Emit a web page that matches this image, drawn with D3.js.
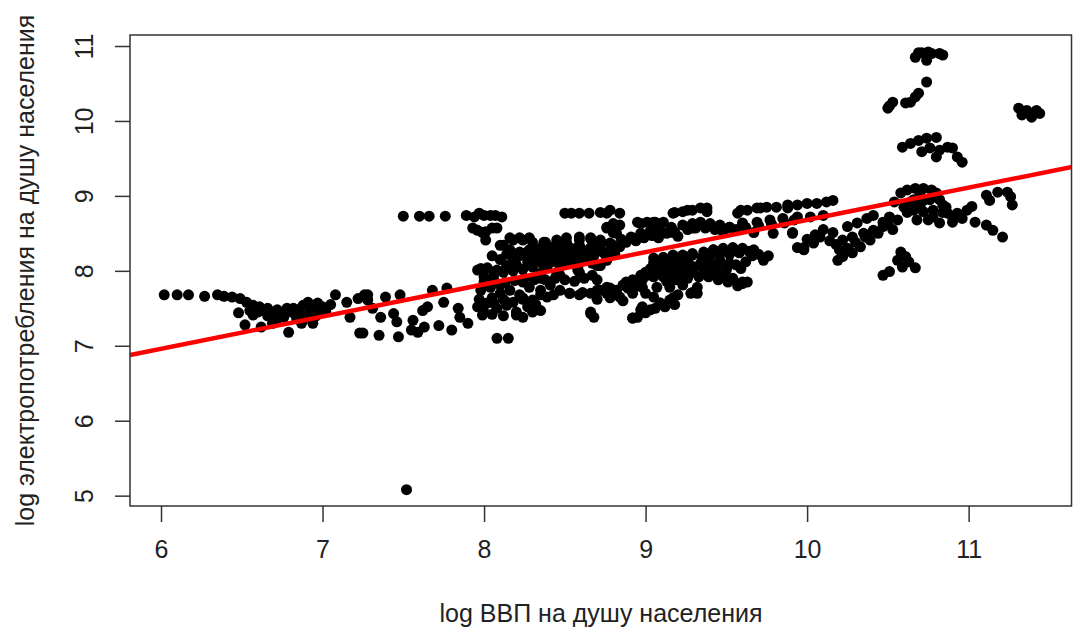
<!DOCTYPE html>
<html>
<head>
<meta charset="utf-8">
<script src="https://cdn.jsdelivr.net/npm/d3@7"></script>
<style>
  body { margin: 0; background: #fff; }
  svg { display: block; }
  text { font-family: "Liberation Sans", Arial, sans-serif; fill: #222; }
</style>
</head>
<body>
<div id="chart"></div>
<script>
// log GDP per capita (x) vs log electricity use per capita (y)
const lowIncome = [
  [6.02,7.68],[6.10,7.68],[6.17,7.68],[6.27,7.66],[6.35,7.68],[6.39,7.66],[6.44,7.65],[6.49,7.63],
  [6.53,7.58],[6.57,7.54],[6.61,7.52],[6.66,7.50],[6.72,7.48],[6.78,7.50],[6.82,7.50],[6.88,7.54],
  [6.91,7.58],[6.97,7.57],[7.00,7.52],[7.08,7.68],[7.15,7.58],[7.22,7.63],[7.28,7.68],
  [6.48,7.44],[6.57,7.41],[6.52,7.28],[6.62,7.25],[6.69,7.30],[6.79,7.18],[6.87,7.30],[6.94,7.30],
  [7.17,7.38],[7.23,7.17],[6.76,7.38],[6.82,7.44],[6.90,7.38],[6.98,7.44],
  [6.70,7.45],[6.74,7.42],[6.80,7.46],[6.85,7.48],[6.92,7.46],[6.95,7.50],[6.86,7.42],[6.64,7.47],[6.60,7.45],
  [6.66,7.40],[6.72,7.36],[6.84,7.36],[6.96,7.40],[7.02,7.46],[7.05,7.55],[6.55,7.47],
  [7.26,7.68],[7.28,7.61],[7.31,7.50],[7.39,7.65],[7.48,7.68],[7.36,7.38],[7.44,7.43],[7.46,7.32],
  [7.25,7.17],[7.35,7.14],[7.47,7.12],[7.56,7.34],[7.59,7.18],[7.65,7.52],[7.63,7.25],[7.68,7.74],
  [7.72,7.27],[7.75,7.58],[7.77,7.77],[7.80,7.21],[7.84,7.50],[7.85,7.38],[7.90,7.30],[7.55,7.21],[7.62,7.47],
  [7.50,8.73],[7.60,8.73],[7.66,8.73],[7.76,8.73],[7.89,8.74],[7.94,8.72],[8.00,8.74],[8.07,8.74],
  [8.11,8.72],[7.96,8.54],[8.01,8.52],[8.05,8.57],[8.01,8.41],[7.97,8.77],[8.04,8.74],[7.93,8.57],
  [7.99,8.51],[8.08,8.57],
  [7.52,5.08]
];

const middleIncome = [
  [8.50,8.77],[8.54,8.77],[8.59,8.77],[8.65,8.77],[8.72,8.78],[8.76,8.77],
  [8.12,8.34],[8.18,8.41],[8.24,8.41],[8.30,8.38],[8.38,8.38],[8.45,8.37],[8.51,8.38],[8.59,8.41],[8.66,8.43],[8.72,8.41],
  [7.96,8.01],[8.02,8.04],[8.08,8.01],[8.14,8.05],[8.20,8.08],[8.27,8.12],[8.33,8.17],[8.39,8.18],
  [8.45,8.21],[8.51,8.18],[8.58,8.24],[8.64,8.25],[8.70,8.28],[8.76,8.18],
  [8.35,7.97],[8.45,7.97],[8.58,8.01],[8.67,7.94],
  [7.98,7.74],[8.04,7.78],[8.10,7.70],[8.16,7.74],[8.22,7.68],[8.28,7.78],[8.35,7.74],[8.41,7.81],
  [8.47,7.74],[8.53,7.70],[8.59,7.68],[8.66,7.70],[8.72,7.74],
  [7.96,7.52],[8.02,7.57],[8.08,7.50],[8.14,7.54],[8.20,7.45],[8.27,7.52],[8.35,7.47],[8.24,7.38],
  [8.30,7.61],[8.39,7.65],[8.66,7.43],[8.68,7.38],[8.08,7.10],[8.15,7.10],
  [8.16,8.28],[8.22,8.25],[8.28,8.28],[8.35,8.30],[8.41,8.31],[8.47,8.30],[8.53,8.31],[8.59,8.34],
  [8.66,8.31],[8.72,8.34],[8.39,8.05],[8.47,8.05],[8.53,8.10],[8.59,8.10],[8.67,8.10],[8.72,8.07],
  [8.78,8.81],[8.84,8.77],[8.76,8.58],[8.82,8.50],[8.78,8.37],[8.84,8.32],[8.76,8.14],[8.80,8.63],
  [8.95,8.65],[9.01,8.65],[9.06,8.65],[9.11,8.65],
  [9.18,8.78],[9.23,8.79],[9.29,8.81],[9.34,8.84],[9.38,8.79],
  [8.97,8.50],[9.03,8.54],[9.09,8.57],[9.16,8.58],[9.23,8.61],[9.29,8.63],[9.34,8.65],[9.40,8.63],[9.46,8.61],[9.52,8.58],
  [9.05,8.17],[9.11,8.18],[9.17,8.21],[9.23,8.21],[9.29,8.23],[9.36,8.25],[9.42,8.28],[9.48,8.30],
  [9.54,8.31],[9.60,8.30],[9.67,8.28],[9.73,8.14],
  [9.03,8.03],[9.09,8.05],[9.15,8.05],[9.21,8.07],[9.28,8.07],[9.34,8.10],[9.40,8.11],[9.46,8.14],[9.52,8.10],[9.59,8.03],
  [8.98,7.88],[9.05,7.92],[9.11,7.92],[9.17,7.94],[9.23,7.97],[9.29,7.98],[9.36,8.01],[9.42,7.98],
  [9.48,7.94],[9.54,7.90],[9.60,7.85],
  [8.92,7.83],[8.98,7.78],[9.07,7.78],[9.15,7.78],[9.23,7.81],[9.32,7.78],[9.21,7.88],
  [8.76,7.78],[8.82,7.74],[8.89,7.77],[8.76,7.70],[8.84,7.65],[8.92,7.70],
  [9.09,7.57],[9.15,7.61],[9.20,7.68],[9.28,7.70],[8.98,7.52],[9.03,7.48],[8.95,7.38],[8.92,7.37],[9.32,7.70],[9.63,7.85]
];

// the crowded middle of the cloud
const denseCore = [
  [8.10,8.34],[8.16,8.44],[8.22,8.44],[8.28,8.44],[8.37,8.38],[8.45,8.41],[8.51,8.44],[8.59,8.45],
  [8.66,8.44],[8.76,8.57],[8.80,8.51],[8.84,8.61],[8.97,8.63],[9.05,8.65],[9.17,8.77],[9.26,8.81],
  [9.38,8.84],[9.59,8.81],[9.71,8.84],[9.88,8.84],[9.52,8.58],[9.67,8.51],[9.79,8.50],[9.91,8.51],[9.94,8.31],
  [8.05,8.20],[8.10,8.15],[8.14,8.22],[8.18,8.17],[8.22,8.20],[8.26,8.24],[8.30,8.21],[8.33,8.27],
  [8.37,8.24],[8.40,8.22],[8.43,8.27],[8.46,8.15],[8.49,8.24],[8.52,8.27],[8.55,8.20],[8.57,8.30],
  [8.61,8.28],[8.63,8.20],[8.68,8.20],[8.70,8.37],[8.74,8.24],[8.78,8.28],[8.81,8.22],[8.85,8.42],
  [8.88,8.38],[8.91,8.45],[8.94,8.40],[8.99,8.44],[9.04,8.47],[9.08,8.44],[9.13,8.50],[9.18,8.52],
  [9.20,8.46],[9.26,8.55],[9.31,8.57],[9.37,8.57],[9.43,8.55],[9.48,8.52],[9.56,8.55],[9.62,8.58],
  [9.70,8.60],[9.78,8.62],[9.86,8.64],[9.92,8.68],
  [7.98,8.03],[8.14,8.07],[8.30,8.11],[8.43,8.21],[8.55,8.23],[8.67,8.28],[8.80,8.34],[8.92,8.44],
  [9.05,8.48],[9.17,8.51],[9.29,8.57],[9.42,8.58],
  [8.00,7.92],[8.06,7.95],[8.12,7.98],[8.18,8.00],[8.24,8.02],[8.30,8.05],[8.36,8.10],[8.42,8.12],
  [8.48,8.11],[8.55,8.14],[8.62,8.14],
  [8.00,7.85],[8.06,7.88],[8.13,7.84],[8.19,7.87],[8.25,7.90],[8.31,7.88],[8.38,7.88],[8.44,7.90],
  [8.50,7.88],[8.56,7.86],[8.62,7.90],[8.70,7.88],
  [8.10,7.81],[8.24,7.85],[8.35,7.90],[8.47,7.94],[8.59,7.98],[8.70,8.07],
  [7.98,7.58],[8.06,7.57],[8.14,7.58],[8.24,7.64],[8.35,7.68],[8.43,7.68],[7.99,7.41],[8.20,7.41],
  [8.30,7.45],[8.66,7.45],
  [7.97,7.62],[8.05,7.64],[8.12,7.62],[8.18,7.58],[8.24,7.62],[8.32,7.55],[8.05,7.42],[8.12,7.40],[8.00,7.45],
  [8.53,7.70],[8.61,7.71],[8.70,7.74],[8.78,7.77],[8.86,7.81],[8.92,7.88],[8.97,7.94],
  [9.05,8.11],[9.17,8.11],[9.29,8.21],[9.42,8.28],[9.54,8.30],[9.67,8.25],[9.73,8.17],[9.01,7.94],
  [9.13,7.92],[9.26,7.94],[9.38,7.97],[9.50,8.01],[9.60,7.83],[9.29,7.71],[9.17,7.64],[9.09,7.57],
  [8.97,7.48],[8.92,7.37],
  [9.00,7.98],[9.06,8.00],[9.12,7.98],[9.18,8.00],[9.24,8.02],[9.30,8.04],[9.38,8.06],[9.44,8.05],
  [9.50,8.04],[9.56,8.08],[9.62,8.12],[9.66,8.20],[9.70,8.22],[9.76,8.20],[9.35,8.18],[9.40,8.20],
  [9.46,8.22],[9.52,8.22],[9.58,8.24],[9.64,8.26],[9.26,8.14],[9.20,8.12],[9.14,8.12],[9.08,8.10],
  [9.13,7.86],[9.19,7.88],[9.26,7.90],[9.33,7.92],[9.39,7.92],[9.45,7.88],[9.51,7.85],[9.57,7.80],
  [8.70,7.62],[8.78,7.64],[8.86,7.60],[8.88,7.85],[8.95,7.80],[9.00,7.70],[9.05,7.65],
  [9.00,7.44],[9.06,7.50],[9.12,7.52],[9.18,7.55]
];

const highIncome = [
  [9.57,8.77],[9.63,8.81],[9.69,8.84],[9.75,8.85],[9.81,8.85],[9.88,8.88],[9.94,8.88],[10.00,8.90],
  [10.06,8.90],[10.12,8.92],[10.16,8.94],
  [9.60,8.64],[9.69,8.65],[9.77,8.68],[9.85,8.70],[9.94,8.72],[10.02,8.72],[10.10,8.74],
  [9.91,8.50],[9.98,8.31],[10.04,8.37],[10.08,8.45],[10.16,8.51],[10.19,8.14],[9.98,8.28],
  [10.00,8.42],[10.05,8.48],[10.10,8.55],[10.14,8.40],[10.18,8.35],
  [10.25,8.59],[10.31,8.64],[10.37,8.70],[10.41,8.74],[10.47,8.65],[10.51,8.72],[10.56,8.68],
  [10.22,8.41],[10.28,8.45],[10.35,8.50],[10.41,8.54],[10.47,8.59],[10.22,8.19],[10.28,8.24],[10.33,8.32],[10.39,8.41],
  [10.25,8.30],[10.30,8.38],[10.36,8.45],[10.44,8.50],[10.50,8.62],[10.53,8.55],[10.20,8.28],
  [10.47,7.94],[10.51,7.99],[10.58,8.25],[10.61,8.19],[10.63,8.12],[10.67,8.04],[10.56,8.14],[10.59,8.05],
  [10.58,9.04],[10.62,9.08],[10.67,9.10],[10.72,9.10],[10.77,9.08],[10.80,9.04],[10.54,8.92],[10.64,8.92],[10.72,8.94],
  [10.66,8.81],[10.72,8.79],[10.78,8.81],[10.84,8.88],[10.87,8.77],[10.68,8.68],[10.75,8.68],[10.82,8.64],
  [10.90,8.65],[10.93,8.77],[10.99,8.81],[11.02,8.86],[11.04,8.65],
  [10.60,8.85],[10.66,8.95],[10.70,9.00],[10.76,8.95],[10.82,8.95],[10.86,8.85],[10.90,8.72],[10.96,8.70],
  [10.62,8.78],[10.70,8.86],[10.78,8.72],[10.84,8.78],
  [11.11,9.01],[11.18,9.05],[11.24,9.05],[11.26,8.99],[11.27,8.88],[11.13,8.94],[11.11,8.61],[11.15,8.54],[11.21,8.45],
  [10.59,9.65],[10.64,9.70],[10.69,9.74],[10.74,9.77],[10.80,9.78],[10.71,9.59],[10.76,9.64],[10.82,9.61],
  [10.87,9.65],[10.90,9.64],[10.80,9.52],[10.93,9.52],[10.96,9.45],
  [10.51,10.20],[10.53,10.25],[10.61,10.24],[10.64,10.25],[10.67,10.32],[10.69,10.37],[10.50,10.17],
  [10.74,10.52],
  [10.67,10.85],[10.71,10.91],[10.75,10.92],[10.74,10.81],[10.82,10.90],[10.84,10.88],[10.69,10.91],[10.77,10.90],
  [11.31,10.17],[11.33,10.08],[11.36,10.14],[11.39,10.05],[11.42,10.14],[11.44,10.10]
];

const xTicks = [6, 7, 8, 9, 10, 11];
const yTicks = [5, 6, 7, 8, 9, 10, 11];
const xDomain = [5.808, 11.64];
const yDomain = [4.862, 11.147];
// fitted line: log elec = intercept + slope * log gdp
const intercept = 4.38;
const slope = 0.43;

const xTitle = "log ВВП на душу населения";
const yTitle = "log электропотребления на душу населения";

const width = 1073, height = 635;
const margin = { top: 35, right: 1, bottom: 129, left: 130 };

const points = [...lowIncome, ...middleIncome, ...denseCore, ...highIncome];

const x = d3.scaleLinear().domain(xDomain).range([margin.left, width - margin.right]);
const y = d3.scaleLinear().domain(yDomain).range([height - margin.bottom, margin.top]);

const svg = d3.select("#chart").append("svg")
  .attr("width", width)
  .attr("height", height);

svg.append("defs").append("clipPath").attr("id", "plot-clip")
  .append("rect")
  .attr("x", margin.left).attr("y", margin.top)
  .attr("width", width - margin.left - margin.right)
  .attr("height", height - margin.top - margin.bottom);

svg.append("g")
  .selectAll("circle")
  .data(points)
  .join("circle")
  .attr("cx", (d) => x(d[0]))
  .attr("cy", (d) => y(d[1]))
  .attr("r", 5.5)
  .attr("fill", "#000");

svg.append("line")
  .attr("clip-path", "url(#plot-clip)")
  .attr("x1", x(xDomain[0]))
  .attr("y1", y(intercept + slope * xDomain[0]))
  .attr("x2", x(xDomain[1]))
  .attr("y2", y(intercept + slope * xDomain[1]))
  .attr("stroke", "#ff0000")
  .attr("stroke-width", 4.5);

// box
svg.append("rect")
  .attr("x", margin.left).attr("y", margin.top)
  .attr("width", width - margin.left - margin.right - 0.5)
  .attr("height", height - margin.top - margin.bottom)
  .attr("fill", "none")
  .attr("stroke", "#333")
  .attr("stroke-width", 1.5);

const gX = svg.append("g")
  .attr("transform", `translate(0,${height - margin.bottom})`)
  .call(d3.axisBottom(x).tickValues(xTicks).tickSize(16).tickPadding(18).tickFormat(d3.format("d")));
gX.select(".domain").remove();
gX.selectAll(".tick line").attr("stroke", "#333").attr("stroke-width", 1.5);
gX.selectAll(".tick text").attr("font-size", 25).attr("fill", "#222");

const gY = svg.append("g")
  .attr("transform", `translate(${margin.left},0)`)
  .call(d3.axisLeft(y).tickValues(yTicks).tickSize(15).tickFormat(d3.format("d")));
gY.select(".domain").remove();
gY.selectAll(".tick line").attr("stroke", "#333").attr("stroke-width", 1.5);
gY.selectAll(".tick text")
  .attr("font-size", 25)
  .attr("fill", "#222")
  .attr("x", null).attr("dy", null)
  .attr("text-anchor", "middle")
  .attr("transform", "translate(-37,0) rotate(-90)");

svg.append("text")
  .attr("x", (margin.left + width - margin.right) / 2)
  .attr("y", 622)
  .attr("text-anchor", "middle")
  .attr("font-size", 25)
  .text(xTitle);

svg.append("text")
  .attr("transform", `translate(34,${(margin.top + height - margin.bottom) / 2}) rotate(-90)`)
  .attr("text-anchor", "middle")
  .attr("font-size", 25)
  .text(yTitle);
</script>
</body>
</html>
